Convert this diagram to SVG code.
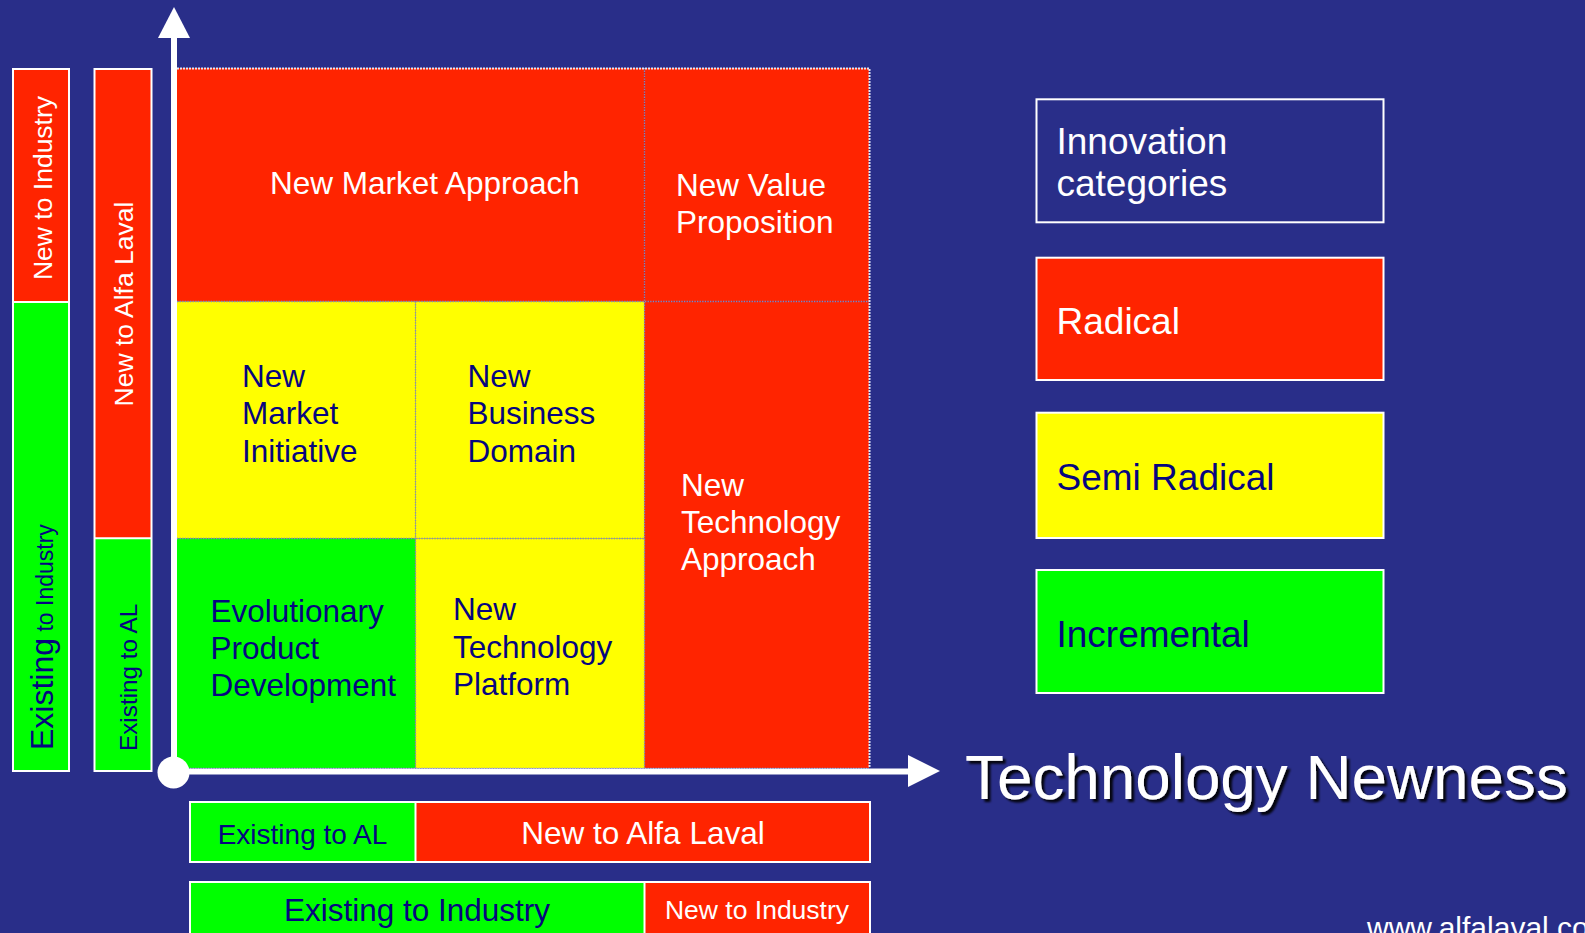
<svg xmlns="http://www.w3.org/2000/svg" width="1585" height="933" viewBox="0 0 1585 933">
<defs>
<style>
text { font-family: "Liberation Sans", Arial, sans-serif; }
.w { fill: #ffffff; }
.n { fill: #06067f; }
.red { fill: #ff2400; }
.yel { fill: #ffff00; }
.grn { fill: #00ff00; }
.box { fill: none; stroke: #ffffff; stroke-width: 2; }
.div { stroke: #ffffff; stroke-width: 2; }
.gl { stroke: #8088c4; stroke-width: 1.3; stroke-dasharray: 1.3 1.3; fill: none; }
.go { stroke: #e2e5f7; stroke-width: 2; stroke-dasharray: 2 1; fill: none; }
.f32 { font-size: 31.5px; }
.f37 { font-size: 37px; }
.axis { stroke: #ffffff; stroke-width: 6; fill: none; }
</style>
<filter id="sh" x="-5%" y="-20%" width="110%" height="140%">
<feDropShadow dx="3" dy="3" stdDeviation="0.8" flood-color="#000000" flood-opacity="0.9"/>
</filter>
</defs>
<rect x="0" y="0" width="1585" height="933" fill="#292e89"/>

<!-- left bar: market newness to industry -->
<g id="bar-left-industry">
<rect x="13" y="69" width="56" height="233" class="red"/>
<rect x="13" y="302" width="56" height="469" class="grn"/>
<line x1="13" y1="302" x2="69" y2="302" class="div"/>
<rect x="13" y="69" width="56" height="702" class="box"/>
<text transform="translate(52,188) rotate(-90)" text-anchor="middle" font-size="26.5" class="w">New to Industry</text>
<text transform="translate(53,750) rotate(-90)" class="n"><tspan font-size="32">Existing</tspan><tspan font-size="23"> to Industry</tspan></text>
</g>

<!-- left bar: market newness to Alfa Laval -->
<g id="bar-left-al">
<rect x="94.5" y="69" width="57" height="469" class="red"/>
<rect x="94.5" y="538.3" width="57" height="232.7" class="grn"/>
<line x1="94.5" y1="538.3" x2="151.5" y2="538.3" class="div"/>
<rect x="94.5" y="69" width="57" height="702" class="box"/>
<text transform="translate(133,304) rotate(-90)" text-anchor="middle" font-size="26.5" class="w">New to Alfa Laval</text>
<text transform="translate(136.5,751) rotate(-90)" font-size="24.3" class="n">Existing to AL</text>
</g>

<!-- grid cells -->
<g id="cell-new-market-approach">
<rect x="177" y="68" width="467.5" height="233.5" class="red"/>
<text x="270" y="194" class="w f32">New Market Approach</text>
</g>
<g id="cell-new-value-proposition">
<rect x="644.5" y="68" width="224.5" height="233.5" class="red"/>
<text x="676" y="196" class="w f32">New Value</text>
<text x="676" y="233" class="w f32">Proposition</text>
</g>
<g id="cell-new-market-initiative">
<rect x="177" y="301.5" width="238.5" height="237" class="yel"/>
<text x="242" y="386.7" class="n f32">New</text>
<text x="242" y="424.2" class="n f32">Market</text>
<text x="242" y="461.7" class="n f32">Initiative</text>
</g>
<g id="cell-new-business-domain">
<rect x="415.5" y="301.5" width="229" height="237" class="yel"/>
<text x="467.5" y="386.7" class="n f32">New</text>
<text x="467.5" y="424.2" class="n f32">Business</text>
<text x="467.5" y="461.7" class="n f32">Domain</text>
</g>
<g id="cell-new-technology-approach">
<rect x="644.5" y="301.5" width="224.5" height="466.5" class="red"/>
<text x="681" y="496" class="w f32">New</text>
<text x="681" y="533" class="w f32">Technology</text>
<text x="681" y="570" class="w f32">Approach</text>
</g>
<g id="cell-evolutionary-product-development">
<rect x="177" y="538.5" width="238.5" height="229.5" class="grn"/>
<text x="210.5" y="621.7" class="n f32">Evolutionary</text>
<text x="210.5" y="658.5" class="n f32">Product</text>
<text x="210.5" y="696" class="n f32">Development</text>
</g>
<g id="cell-new-technology-platform">
<rect x="415.5" y="538.5" width="229" height="229.5" class="yel"/>
<text x="453" y="620" class="n f32">New</text>
<text x="453" y="657.5" class="n f32">Technology</text>
<text x="453" y="694.5" class="n f32">Platform</text>
</g>
<g id="grid-lines">
<line x1="177" y1="301.5" x2="869" y2="301.5" class="gl"/>
<line x1="177" y1="538.5" x2="644.5" y2="538.5" class="gl"/>
<line x1="415.5" y1="301.5" x2="415.5" y2="768" class="gl"/>
<line x1="644.5" y1="68" x2="644.5" y2="768" class="gl"/>
<path d="M177,68.5 H869.5 V768" class="go"/>
<line x1="177" y1="768.3" x2="869" y2="768.3" class="gl"/>
</g>

<!-- bottom bars -->
<g id="bar-bottom-al">
<rect x="190" y="802" width="225.5" height="60" class="grn"/>
<rect x="415.5" y="802" width="454.5" height="60" class="red"/>
<line x1="415.5" y1="802" x2="415.5" y2="862" class="div"/>
<rect x="190" y="802" width="680" height="60" class="box"/>
<text x="302.5" y="844" text-anchor="middle" font-size="28" class="n">Existing to AL</text>
<text x="643" y="844" text-anchor="middle" font-size="31.5" class="w">New to Alfa Laval</text>
</g>
<g id="bar-bottom-industry">
<rect x="190" y="882" width="454.5" height="60" class="grn"/>
<rect x="644.5" y="882" width="225.5" height="60" class="red"/>
<line x1="644.5" y1="882" x2="644.5" y2="942" class="div"/>
<rect x="190" y="882" width="680" height="60" class="box"/>
<text x="417" y="921" text-anchor="middle" font-size="31.5" class="n">Existing to Industry</text>
<text x="757" y="919" text-anchor="middle" font-size="26.5" class="w">New to Industry</text>
</g>

<!-- legend -->
<g id="legend-title">
<rect x="1036.5" y="99.3" width="347" height="123" class="box"/>
<text x="1056.5" y="154" class="w f37">Innovation</text>
<text x="1056.5" y="195.5" class="w f37">categories</text>
</g>
<g id="legend-radical">
<rect x="1036.5" y="257.7" width="347" height="122.3" class="red"/>
<rect x="1036.5" y="257.7" width="347" height="122.3" class="box"/>
<text x="1056.5" y="334" class="w f37">Radical</text>
</g>
<g id="legend-semi-radical">
<rect x="1036.5" y="412.7" width="347" height="125.3" class="yel"/>
<rect x="1036.5" y="412.7" width="347" height="125.3" class="box"/>
<text x="1056.5" y="490" class="n f37">Semi Radical</text>
</g>
<g id="legend-incremental">
<rect x="1036.5" y="570" width="347" height="123" class="grn"/>
<rect x="1036.5" y="570" width="347" height="123" class="box"/>
<text x="1056.5" y="646.7" class="n f37">Incremental</text>
</g>

<!-- axes -->
<g id="connectors">
<line x1="174" y1="772" x2="174" y2="36" class="axis"/>
<polygon points="174,7 158,38 190,38" fill="#ffffff"/>
<line x1="174" y1="771.5" x2="910" y2="771.5" class="axis"/>
<polygon points="940,771 908,755 908,787" fill="#ffffff"/>
<circle cx="173.5" cy="772.5" r="16" fill="#ffffff"/>
</g>

<g id="axis-label">
<text x="965" y="799" font-size="63.8" class="w" filter="url(#sh)">Technology Newness</text>
</g>
<g id="footer">
<text x="1367" y="938" font-size="30" class="w">www.alfalaval.com</text>
</g>
</svg>
